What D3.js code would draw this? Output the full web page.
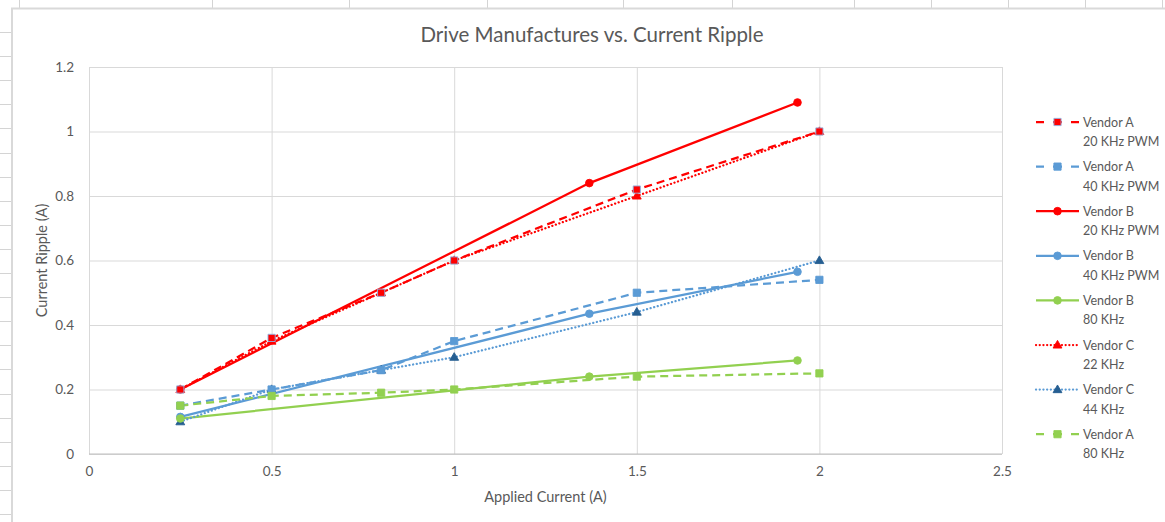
<!DOCTYPE html>
<html>
<head>
<meta charset="utf-8">
<script src="https://cdn.jsdelivr.net/npm/d3@7/dist/d3.min.js"></script>
<style>
  html, body { margin: 0; padding: 0; background: #ffffff; }
  svg { display: block; }
  text { font-family: Lato, "Liberation Sans", sans-serif; fill: #595959; }
</style>
</head>
<body>
<svg id="chart" width="1165" height="522"></svg>
<script>
// ---- data -------------------------------------------------------------
const xTicks = [0, 0.5, 1, 1.5, 2, 2.5];
const yTicks = [0, 0.2, 0.4, 0.6, 0.8, 1, 1.2];
const yTickLabels = ["0", "0.2", "0.4", "0.6", "0.8", "1", "1.2"];
const xTickLabels = ["0", "0.5", "1", "1.5", "2", "2.5"];

const vendorA20x = [0.25, 0.5, 0.8, 1, 1.5, 2];
const vendorA20y = [0.2, 0.36, 0.5, 0.6, 0.82, 1.0];

const vendorA40x = [0.25, 0.5, 0.8, 1, 1.5, 2];
const vendorA40y = [0.15, 0.2, 0.26, 0.35, 0.5, 0.54];

const vendorB20x = [0.25, 1.37, 1.94];
const vendorB20y = [0.2, 0.84, 1.09];

const vendorB40x = [0.25, 1.37, 1.94];
const vendorB40y = [0.115, 0.435, 0.565];

const vendorB80x = [0.25, 1.37, 1.94];
const vendorB80y = [0.11, 0.24, 0.29];

const vendorC22x = [0.25, 0.5, 0.8, 1, 1.5, 2];
const vendorC22y = [0.2, 0.35, 0.5, 0.6, 0.8, 1.0];

const vendorC44x = [0.25, 0.5, 0.8, 1, 1.5, 2];
const vendorC44y = [0.1, 0.2, 0.26, 0.3, 0.44, 0.6];

const vendorA80x = [0.25, 0.5, 0.8, 1, 1.5, 2];
const vendorA80y = [0.15, 0.18, 0.19, 0.2, 0.24, 0.25];

const seriesNames = [
  ["Vendor A", "20 KHz PWM"],
  ["Vendor A", "40 KHz PWM"],
  ["Vendor B", "20 KHz PWM"],
  ["Vendor B", "40 KHz PWM"],
  ["Vendor B", "80 KHz"],
  ["Vendor C", "22 KHz"],
  ["Vendor C", "44 KHz"],
  ["Vendor A", "80 KHz"]
];

// ---- styling ----------------------------------------------------------
const RED = "#ff0000", BLUE = "#5b9bd5", GREEN = "#92d050", NAVY = "#255e91";
const DASH = "8,5", DOT = "0.1,3.6";

const series = [
  { xs: vendorA20x, ys: vendorA20y, color: RED,   dash: DASH, marker: "square",   mfill: RED,   mstroke: "#8fb4e3" },
  { xs: vendorA40x, ys: vendorA40y, color: BLUE,  dash: DASH, marker: "square",   mfill: BLUE,  mstroke: BLUE },
  { xs: vendorB20x, ys: vendorB20y, color: RED,   dash: null, marker: "circle",   mfill: RED,   mstroke: RED },
  { xs: vendorB40x, ys: vendorB40y, color: BLUE,  dash: null, marker: "circle",   mfill: BLUE,  mstroke: BLUE },
  { xs: vendorB80x, ys: vendorB80y, color: GREEN, dash: null, marker: "circle",   mfill: GREEN, mstroke: GREEN },
  { xs: vendorC22x, ys: vendorC22y, color: RED,   dash: DOT,  marker: "triangle", mfill: RED,   mstroke: RED },
  { xs: vendorC44x, ys: vendorC44y, color: BLUE,  dash: DOT,  marker: "triangle", mfill: NAVY,  mstroke: NAVY },
  { xs: vendorA80x, ys: vendorA80y, color: GREEN, dash: DASH, marker: "square",   mfill: GREEN, mstroke: GREEN }
].map((s, i) => ({ ...s, name: seriesNames[i], points: s.xs.map((x, j) => [x, s.ys[j]]) }));

// ---- layout -----------------------------------------------------------
const svg = d3.select("#chart");
const plot = { left: 89, right: 1002, top: 67, bottom: 454 };

const x = d3.scaleLinear().domain([0, 2.5]).range([plot.left, plot.right]);
const y = d3.scaleLinear().domain([0, 1.2]).range([plot.bottom, plot.top]);

// worksheet surroundings: column/row edges peeking out around the chart
const sheet = svg.append("g").attr("stroke", "#d4d4d4").attr("stroke-width", 1);
[19, 212, 349, 487, 623, 732, 854, 931, 1008, 1085, 1162].forEach(cx =>
  sheet.append("line").attr("x1", cx + 0.5).attr("x2", cx + 0.5).attr("y1", 0).attr("y2", 8));
d3.range(32, 522, 24.1).forEach(ry =>
  sheet.append("line").attr("x1", 0).attr("x2", 11).attr("y1", Math.round(ry) + 0.5).attr("y2", Math.round(ry) + 0.5));

// chart area frame
svg.append("path")
  .attr("d", "M12,522 V8.5 H1165")
  .attr("fill", "none").attr("stroke", "#d9d9d9").attr("stroke-width", 2);

// ---- gridlines via axes -----------------------------------------------
const gx = svg.append("g")
  .attr("transform", `translate(0,${plot.bottom})`)
  .call(d3.axisBottom(x).tickValues(xTicks).tickSize(-(plot.bottom - plot.top)).tickFormat((d, i) => xTickLabels[i]).tickPadding(12));
gx.select(".domain").remove();
gx.selectAll(".tick line").attr("stroke", "#d9d9d9").attr("stroke-width", 1);
gx.selectAll(".tick text").attr("font-size", 13.5).style("fill", "#595959").attr("font-family", "Lato, sans-serif");

const gy = svg.append("g")
  .attr("transform", `translate(${plot.left},0)`)
  .call(d3.axisLeft(y).tickValues(yTicks).tickSize(-(plot.right - plot.left)).tickFormat((d, i) => yTickLabels[i]).tickPadding(15));
gy.select(".domain").remove();
gy.selectAll(".tick line").attr("stroke", "#d9d9d9").attr("stroke-width", 1);
gy.selectAll(".tick text").attr("font-size", 13.5).style("fill", "#595959").attr("font-family", "Lato, sans-serif");

// horizontal axis line
svg.append("line")
  .attr("x1", plot.left).attr("x2", plot.right)
  .attr("y1", y(0)).attr("y2", y(0))
  .attr("stroke", "#bfbfbf").attr("stroke-width", 1);

// ---- titles -----------------------------------------------------------
svg.append("text")
  .attr("x", 592).attr("y", 42)
  .attr("text-anchor", "middle")
  .attr("font-size", 20.5)
  .text("Drive Manufactures vs. Current Ripple");

svg.append("text")
  .attr("x", (plot.left + plot.right) / 2).attr("y", 502)
  .attr("text-anchor", "middle")
  .attr("font-size", 14.5)
  .text("Applied Current (A)");

svg.append("text")
  .attr("transform", `translate(47,${(plot.top + plot.bottom) / 2}) rotate(-90)`)
  .attr("text-anchor", "middle")
  .attr("font-size", 14.5)
  .text("Current Ripple (A)");

// ---- series -----------------------------------------------------------
const line = d3.line().x(d => x(d[0])).y(d => y(d[1]));

const lines = svg.append("g");
series.forEach(s => {
  lines.append("path")
    .datum(s.points)
    .attr("d", line)
    .attr("fill", "none")
    .attr("stroke", s.color)
    .attr("stroke-width", 2.25)
    .attr("stroke-linecap", s.dash === DOT ? "round" : "butt")
    .attr("stroke-dasharray", s.dash);
});

const symbolFor = m => m === "square" ? d3.symbolSquare : m === "circle" ? d3.symbolCircle : d3.symbolTriangle;
const sizeFor = m => m === "square" ? 52 : m === "circle" ? 46 : 34;

function drawMarker(g, s, cx, cy) {
  g.append("path")
    .attr("d", d3.symbol().type(symbolFor(s.marker)).size(sizeFor(s.marker))())
    .attr("transform", `translate(${cx},${cy + (s.marker === "triangle" ? 0.5 : 0)})`)
    .attr("fill", s.mfill)
    .attr("stroke", s.mstroke)
    .attr("stroke-width", 0.9);
}

// marker stacking: triangles sit underneath the coincident squares
const markers = svg.append("g");
[5, 6, 1, 2, 3, 4, 0, 7].forEach(i => {
  const s = series[i];
  s.points.forEach(p => drawMarker(markers, s, x(p[0]), y(p[1])));
});

// ---- legend -----------------------------------------------------------
const legend = svg.append("g");
series.forEach((s, i) => {
  const ly = 122 + i * 44.6;
  const row = legend.append("g");
  row.append("line")
    .attr("x1", 1036).attr("x2", 1079)
    .attr("y1", ly).attr("y2", ly)
    .attr("stroke", s.color)
    .attr("stroke-width", 2.25)
    .attr("stroke-linecap", s.dash === DOT ? "round" : "butt")
    .attr("stroke-dasharray", s.dash === DASH ? "8,9,9,9" : s.dash);
  drawMarker(row, s, 1057.5, ly);
  row.append("text")
    .attr("x", 1083).attr("y", ly + 4.5)
    .attr("font-size", 12.5)
    .text(s.name[0]);
  row.append("text")
    .attr("x", 1083).attr("y", ly + 24)
    .attr("font-size", 12.5)
    .text(s.name[1]);
});
</script>
</body>
</html>
